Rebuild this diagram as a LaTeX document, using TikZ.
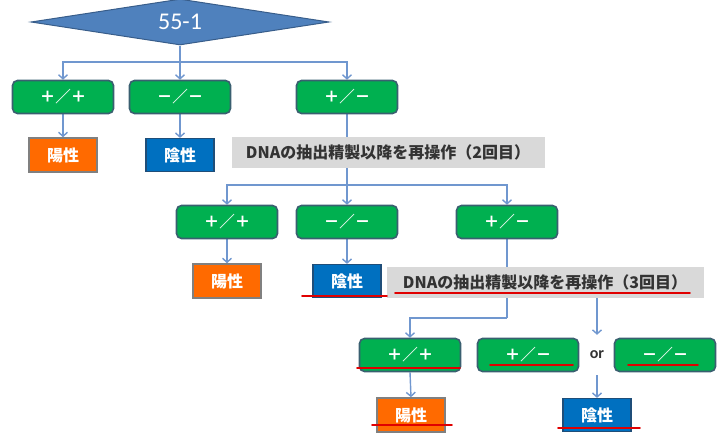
\documentclass[tikz,border=0pt]{standalone}
\usepackage{fontspec}
\setmainfont{Carlito}
\newfontfamily\jp{Noto Sans CJK JP}
\usetikzlibrary{shapes.geometric,arrows.meta,backgrounds}
\definecolor{conn}{HTML}{7097CF}
\definecolor{gfill}{HTML}{00B050}
\definecolor{gdraw}{HTML}{3A5F70}
\definecolor{ofill}{HTML}{FF6A00}
\definecolor{bfill}{HTML}{0070C0}
\definecolor{bdraw}{HTML}{1F4E79}
\definecolor{dfill}{HTML}{4F81BD}
\definecolor{ddraw}{HTML}{385D8A}
\definecolor{lgray}{HTML}{D9D9D9}
\definecolor{redl}{HTML}{E00000}
\tikzset{
  gbox/.style={draw=gdraw, line width=1.6pt, fill=gfill, rounded corners=5pt,
    minimum width=101pt, minimum height=33pt, inner sep=0pt, text=white,
    font=\jp\bfseries\fontsize{15.5}{15.5}\selectfont},
  obox/.style={draw=gray, line width=1.6pt, fill=ofill, minimum width=68pt,
    minimum height=34pt, inner sep=0pt, text=white, font=\jp\bfseries\fontsize{16}{16}\selectfont},
  bbox/.style={draw=bdraw, line width=1.2pt, fill=bfill, minimum width=68pt,
    minimum height=33pt, inner sep=0pt, text=white, font=\jp\bfseries\fontsize{16}{16}\selectfont},
  glabel/.style={fill=lgray, inner sep=0pt, minimum height=31pt, text=black!80,
    font=\jp\bfseries\fontsize{16}{16}\selectfont},
  arr/.style={draw=conn, line width=1.4pt, -{Straight Barb[length=4pt,width=9pt]}},
  ln/.style={draw=conn, line width=1.4pt},
  redu/.style={draw=redl, line width=1.6pt, line cap=round},
}
\begin{document}
\begin{tikzpicture}[x=1pt,y=-1pt]
\useasboundingbox (0,0) rectangle (717,434);
\node[diamond, aspect=6.7, draw=ddraw, line width=1pt, fill=dfill, minimum width=298pt,
  minimum height=46pt, inner sep=0pt, text=white, font=\fontsize{24}{24}\selectfont] (top) at (180,22) {55-1};
% level 1
\node[gbox] (A) at (63,97) {＋／＋};
\node[gbox] (B) at (180,97) {－／－};
\node[gbox] (C) at (347,97) {＋／－};
\node[obox] (posA) at (63,155) {陽性};
\node[bbox] (negB) at (180,155) {陰性};
\node[glabel, minimum width=313pt] (lab2) at (388,152) {DNAの抽出精製以降を再操作（2回目）};
% level 2
\node[gbox] (D) at (227,222) {＋／＋};
\node[gbox] (E) at (347,222) {－／－};
\node[gbox] (F) at (507,222) {＋／－};
\node[obox] (posD) at (227,281) {陽性};
\node[bbox] (negE) at (347,281) {陰性};
\node[glabel, minimum width=317pt] (lab3) at (545,282) {DNAの抽出精製以降を再操作（3回目）};
% level 3
\node[gbox] (G) at (410,355) {＋／＋};
\node[gbox] (H) at (528,355) {＋／－};
\node[gbox] (I) at (665,355) {－／－};
\node[minimum height=40pt, inner sep=0pt, font=\fontsize{16}{16}\selectfont\bfseries, text=black!80] (orn) at (597,355) {or};
\node[obox] (posG) at (411,415) {陽性};
\node[bbox] (negH) at (597,415) {陰性};
\coordinate (j1) at (180,62);
\coordinate (j2) at (347,185);
\coordinate (j3) at (507,318);
\begin{scope}[on background layer]
\draw[ln] (top.south) -- (j1);
\draw[arr] (j1) -| (A.north);
\draw[arr] (j1) -- (B.north);
\draw[arr] (j1) -| (C.north);
\draw[arr] (A.south) -- (posA.north);
\draw[arr] (B.south) -- (negB.north);
\draw[ln] (C.south) -- (j2);
\draw[arr] (j2) -| (D.north);
\draw[arr] (j2) -- (E.north);
\draw[arr] (j2) -| (F.north);
\draw[arr] (D.south) -- (posD.north);
\draw[arr] (E.south) -- (negE.north);
\draw[ln] (F.south) -- (j3);
\draw[arr] (j3) -| (G.north);
\draw[arr] (orn |- lab3.south) -- (orn.north);
\draw[arr] (orn.south) -- (negH.north);
\draw[arr] (G.south) -- (posG.north);
\end{scope}
% red underlines
\draw[redu] (302,296) -- (387,296);
\draw[redu] (395,293) -- (690,293);
\draw[redu] (357,368) -- (460,368);
\draw[redu] (490,365) -- (573,365);
\draw[redu] (628,365) -- (698,365);
\draw[redu] (372,425) -- (452,425);
\draw[redu] (558,428) -- (640,428);
\end{tikzpicture}
\end{document}
